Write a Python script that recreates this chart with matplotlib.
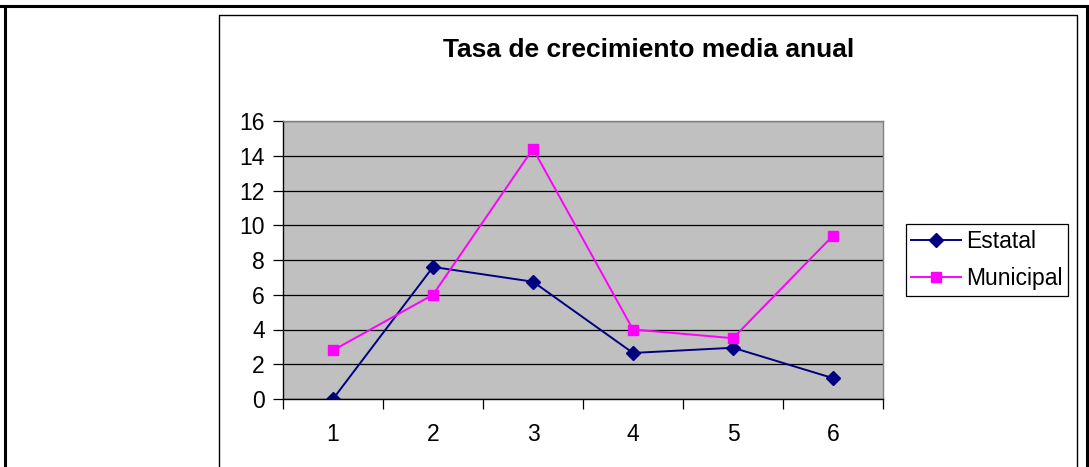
import matplotlib
matplotlib.use("Agg")
import matplotlib.pyplot as plt
from matplotlib.lines import Line2D

plt.rcParams['font.family'] = ['Liberation Sans', 'DejaVu Sans']

categories = ["1", "2", "3", "4", "5", "6"]
estatal = [0.0, 7.6, 6.75, 2.65, 2.95, 1.2]
municipal = [2.8, 6.0, 14.4, 4.0, 3.5, 9.4]
yticks = [0, 2, 4, 6, 8, 10, 12, 14, 16]
title = "Tasa de crecimiento media anual"
series_names = ["Estatal", "Municipal"]

W, H = 1089, 467
fig = plt.figure(figsize=(W / 100, H / 100), dpi=100)

def fx(px):
    return px / W

def fy(py):
    return 1 - py / H

# outer table border
fig.add_artist(Line2D([0, 1], [fy(6), fy(6)], color='black', lw=2.2, transform=fig.transFigure))
fig.add_artist(Line2D([fx(5), fx(5)], [fy(6), 0], color='black', lw=2.2, transform=fig.transFigure))
fig.add_artist(Line2D([fx(1087), fx(1087)], [fy(6), 0], color='black', lw=2.2, transform=fig.transFigure))
# chart frame
fig.add_artist(Line2D([fx(218.5), fx(218.5), fx(1077), fx(1077)], [0, fy(15), fy(15), 0],
                      color='black', lw=1.0, transform=fig.transFigure))

ax = fig.add_axes([fx(283), fy(399), fx(883) - fx(283), fy(121) - fy(399)])
ax.set_facecolor('#C0C0C0')
x = list(range(len(categories)))
ax.plot(x, estatal, color='#000080', marker='D', markersize=7.5, lw=1.4, label=series_names[0])
ax.plot(x, municipal, color='#FF00FF', marker='s', markersize=7.2, lw=1.4, label=series_names[1])

ax.set_xlim(-0.5, len(categories) - 0.5)
ax.set_ylim(0, 16)
ax.set_yticks(yticks)
ax.set_yticklabels([str(v) for v in yticks], fontsize=16.5)
ax.yaxis.grid(True, color='black', lw=0.9)
ax.set_axisbelow(True)
ax.tick_params(axis='y', direction='out', length=7, width=0.9, pad=6, colors='black')

ax.set_xticks([i - 0.5 for i in range(len(categories) + 1)])
ax.set_xticklabels([])
ax.set_xticks(x, minor=True)
ax.set_xticklabels(categories, minor=True, fontsize=16.5)
ax.tick_params(axis='x', which='major', direction='out', length=7, width=0.9)
ax.tick_params(axis='x', which='minor', length=0, pad=17)

for s in ['top', 'right']:
    ax.spines[s].set_color('#808080')
    ax.spines[s].set_linewidth(1.0)
for s in ['left', 'bottom']:
    ax.spines[s].set_color('black')
    ax.spines[s].set_linewidth(1.0)

fig.text(fx(649), fy(57), title, ha='center', va='baseline', fontsize=19, fontweight='bold')

leg = ax.legend(loc='center', bbox_to_anchor=(fx(987), fy(260)), bbox_transform=fig.transFigure,
                fontsize=16.5, frameon=True, fancybox=False, edgecolor='black', framealpha=1,
                handlelength=2.15, handletextpad=0.25, borderpad=0.25, labelspacing=0.62,
                borderaxespad=0)
leg.get_frame().set_linewidth(0.9)

fig.savefig('out.png', dpi=100)
